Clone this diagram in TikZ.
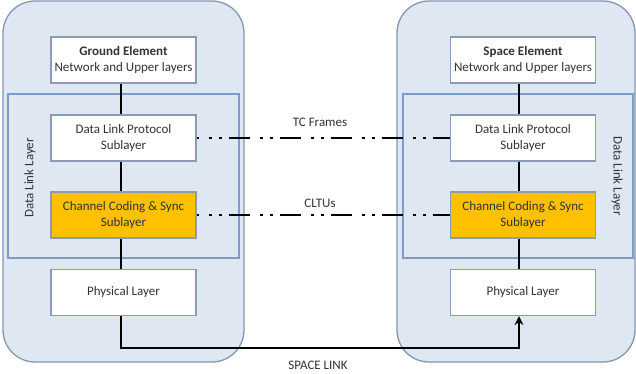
\documentclass[tikz,border=0pt]{standalone}
\usepackage{fontspec}
\setmainfont{Carlito}
\usetikzlibrary{arrows.meta}
\definecolor{outerfill}{HTML}{DEE7F2}
\definecolor{outerdraw}{HTML}{8497B0}
\definecolor{innerdraw}{HTML}{7F9CC4}
\definecolor{boxdraw}{HTML}{8A9BB2}
\definecolor{orangefill}{HTML}{FFC000}
\definecolor{txt}{HTML}{333333}
\tikzset{
  layerbox/.style={draw=boxdraw, line width=1.2pt, fill=white, minimum width=145pt, minimum height=46pt,
    inner sep=0pt, align=center, text=txt, font=\fontsize{13}{16}\selectfont},
  orangebox/.style={layerbox, fill=orangefill},
  conn/.style={line width=2.3pt, black},
  dashline/.style={line width=2.3pt, black, dash pattern=on 3pt off 7pt on 3pt off 7pt on 21pt off 10pt, dash phase=39pt},
  lbl/.style={text=txt, font=\fontsize{13}{15}\selectfont, inner sep=0pt},
}
\begin{document}
\begin{tikzpicture}[x=1pt,y=-1pt]
\useasboundingbox (0,0) rectangle (636,373);
% outer elements
\draw[outerdraw, line width=1.3pt, fill=outerfill, rounded corners=32pt] (3,1) rectangle (244,362);
\draw[outerdraw, line width=1.3pt, fill=outerfill, rounded corners=32pt] (397,1) rectangle (635,362);
% data link layer frames
\draw[innerdraw, line width=1.2pt, fill=outerfill] (8,94) rectangle (239,258);
\draw[innerdraw, line width=1.2pt, fill=outerfill] (403,94) rectangle (633,258);
\node[lbl, rotate=90] (gdll) at (30,178) {Data Link Layer};
\node[lbl, rotate=-90] (sdll) at (617,176) {Data Link Layer};
% left stack
\node[layerbox] (ge) at (123.5,60) {\textbf{Ground Element}\\Network and Upper layers};
\node[layerbox] (gdl) at (123.5,138) {Data Link Protocol\\Sublayer};
\node[orangebox] (gcc) at (123.5,215) {Channel Coding \& Sync\\Sublayer};
\node[layerbox] (gph) at (123.5,292.5) {Physical Layer};
% right stack
\node[layerbox] (se) at (523,60) {\textbf{Space Element}\\Network and Upper layers};
\node[layerbox] (sdl) at (523,138) {Data Link Protocol\\Sublayer};
\node[orangebox] (scc) at (523,215) {Channel Coding \& Sync\\Sublayer};
\node[layerbox] (sph) at (523,292.5) {Physical Layer};
% vertical connectors
\draw[conn] ([xshift=-2.5pt]ge.south) -- ([xshift=-2.5pt]gdl.north);
\draw[conn] ([xshift=-2.5pt]gdl.south) -- ([xshift=-2.5pt]gcc.north);
\draw[conn] ([xshift=-2.5pt]gcc.south) -- ([xshift=-2.5pt]gph.north);
\draw[conn] ([xshift=-4pt]se.south) -- ([xshift=-4pt]sdl.north);
\draw[conn] ([xshift=-4pt]sdl.south) -- ([xshift=-4pt]scc.north);
\draw[conn] ([xshift=-4pt]scc.south) -- ([xshift=-4pt]sph.north);
% peer links
\draw[dashline] (gdl.east) -- (sdl.west);
\draw[dashline] (gcc.east) -- (scc.west);
\node[lbl] (tcf) at (320,122) {TC Frames};
\node[lbl] (cltu) at (320,203) {CLTUs};
% space link
\coordinate (sl) at (121,348);
\draw[conn, -{Stealth[length=9pt,width=9pt,inset=3pt]}] ([xshift=-2.5pt]gph.south) -- (sl) -| ([xshift=-4pt]sph.south);
\node[lbl] (slink) at (318,365) {SPACE LINK};
\end{tikzpicture}
\end{document}
